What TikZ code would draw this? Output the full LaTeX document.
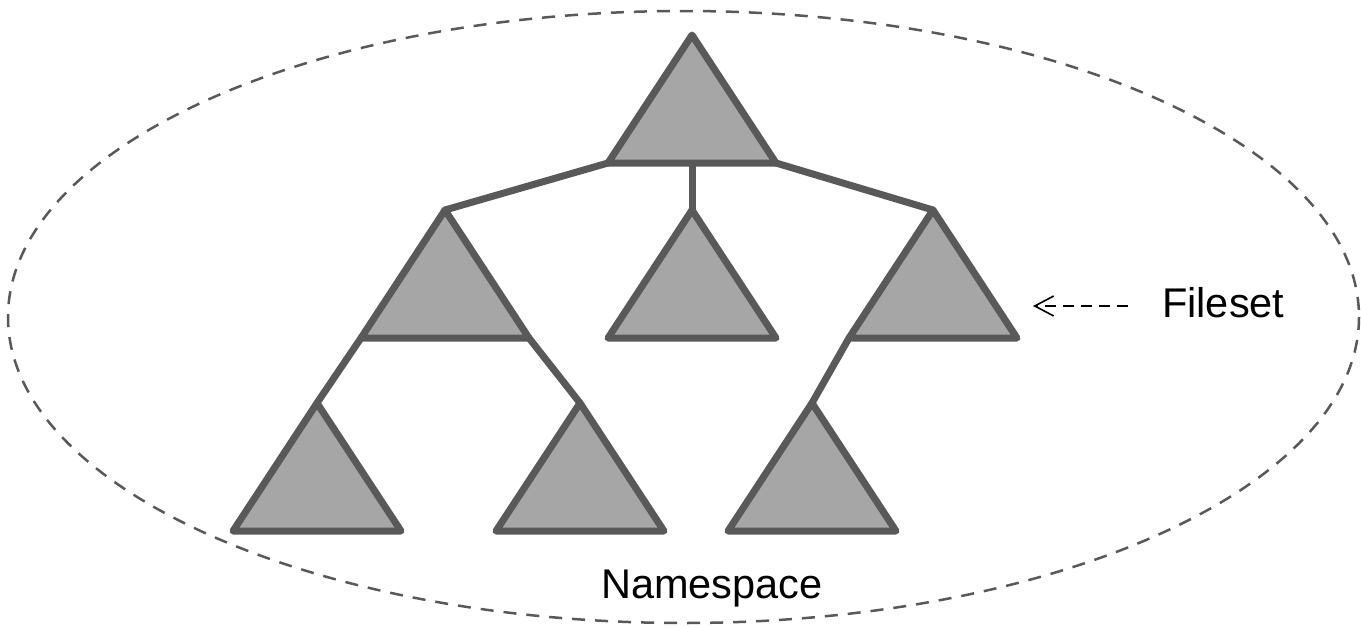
\documentclass[tikz,border=0pt]{standalone}
\usepackage{fontspec}
\setmainfont{Liberation Sans}
\usetikzlibrary{arrows.meta}
\definecolor{edgegray}{HTML}{595959}
\definecolor{fillgray}{HTML}{A6A6A6}
\tikzset{
  tri/.style={draw=edgegray, fill=fillgray, line width=7pt, line join=round},
  branch/.style={draw=edgegray, line width=7pt, line cap=round},
  ell/.style={draw=edgegray, line width=2.5pt, dash pattern=on 13pt off 10pt},
  pointer/.style={draw=black, line width=1.6pt, dash pattern=on 11pt off 7pt, -{Straight Barb[length=19pt,width=20pt,line width=1.6pt]}},
  lbl/.style={inner sep=0pt, font=\fontsize{41.5}{48}\selectfont},
}
\begin{document}
\begin{tikzpicture}[x=1pt,y=-1pt]
\useasboundingbox (0,0) rectangle (1361,627);
\draw[ell] (683.5,317) ellipse [x radius=675.5, y radius=306];
% triangle corner coordinates
\foreach \n/\x/\y in {t/692/35, ml/445/210, mc/692/210, mr/933/210, bl/317/403, bm/580/403, br/812/403} {
  \coordinate (\n-apex) at (\x,\y);
  \coordinate (\n-bl) at (\x-84,\y+128);
  \coordinate (\n-br) at (\x+84,\y+128);
  \coordinate (\n-bc) at (\x,\y+128);
}
% branches
\draw[branch] (t-bl) -- (ml-apex);
\draw[branch] (t-bc) -- (mc-apex);
\draw[branch] (t-br) -- (mr-apex);
\draw[branch] (ml-bl) -- (bl-apex);
\draw[branch] (ml-br) -- (bm-apex);
\draw[branch] (mr-bl) -- (br-apex);
% triangles
\foreach \n in {t, ml, mc, mr, bl, bm, br} {
  \draw[tri] (\n-apex) -- (\n-bl) -- (\n-br) -- cycle;
}
% labels
\node[lbl, anchor=base west] (fs) at (1162,317) {Fileset};
\node[lbl, anchor=base] (ns) at (712,598) {Namespace};
\coordinate (arrowstart) at (1128,306);
\coordinate (arrowend) at (1033,306);
\draw[pointer] (arrowstart) -- (arrowend);
\end{tikzpicture}
\end{document}
